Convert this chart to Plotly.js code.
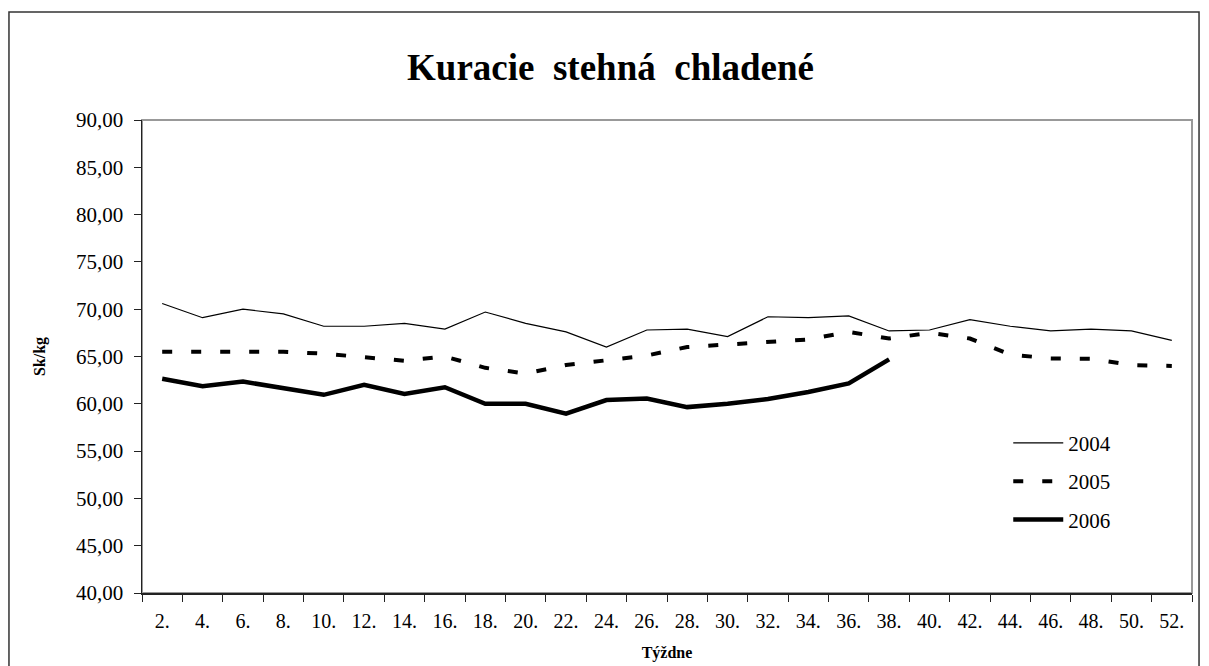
<!DOCTYPE html>
<html>
<head>
<meta charset="utf-8">
<script src="https://cdn.plot.ly/plotly-3.0.1.min.js"></script>
<style>
  html, body { margin: 0; padding: 0; background: #ffffff; }
  #chart { width: 1209px; height: 666px; }
</style>
</head>
<body>
<div id="chart"></div>
<script>
// Week labels (categories)
const weeks = ["2.", "4.", "6.", "8.", "10.", "12.", "14.", "16.", "18.", "20.", "22.", "24.", "26.",
               "28.", "30.", "32.", "34.", "36.", "38.", "40.", "42.", "44.", "46.", "48.", "50.", "52."];

// Prices in Sk/kg
const y2004 = [70.6, 69.1, 70.0, 69.5, 68.2, 68.2, 68.5, 67.9, 69.7, 68.5, 67.6, 66.0, 67.8,
               67.9, 67.1, 69.2, 69.1, 69.3, 67.7, 67.8, 68.9, 68.2, 67.7, 67.9, 67.7, 66.7];
const y2005 = [65.5, 65.5, 65.4, 65.5, 65.3, 64.9, 64.55, 65.0, 63.8, 63.2, 64.1, 64.6, 65.1,
               66.0, 66.3, 66.5, 66.8, 67.6, 66.9, 67.5, 66.9, 65.2, 64.8, 64.75, 64.1, 64.0];
const y2006 = [62.65, 61.85, 62.35, 61.6, 60.95, 62.0, 61.05, 61.75, 60.0, 60.0, 58.95, 60.4, 60.55,
               59.65, 60.0, 60.5, 61.25, 62.15, 64.7];

const seriesNames = ["2004", "2005", "2006"];

const serif = "Liberation Serif";

const traces = [
  { x: weeks, y: y2004, name: seriesNames[0], type: "scatter", mode: "lines",
    line: { color: "#000000", width: 1.2 }, legendgroup: "a" },
  { x: weeks, y: y2005, name: seriesNames[1], type: "scatter", mode: "lines",
    line: { color: "#000000", width: 4, dash: "10px,19px" }, legendgroup: "b" },
  { x: weeks.slice(0, y2006.length), y: y2006, name: seriesNames[2], type: "scatter", mode: "lines",
    line: { color: "#000000", width: 4.5 }, legendgroup: "c" }
];

const layout = {
  width: 1209, height: 666,
  margin: { l: 142, r: 17, t: 120, b: 73 },
  paper_bgcolor: "#ffffff", plot_bgcolor: "#ffffff",
  separators: ", ",
  font: { family: serif, color: "#000000", size: 20 },
  showlegend: true,
  hovermode: false,
  title: {
    text: "<b>Kuracie  stehná  chladené</b>",
    font: { family: serif, size: 37, color: "#000000" },
    xref: "container", x: 0.505, xanchor: "center",
    yref: "container", y: 0.899, yanchor: "middle"
  },
  xaxis: {
    type: "category",
    range: [-0.5, weeks.length - 0.5],
    tickson: "boundaries",
    ticks: "outside", ticklen: 7, tickcolor: "#222222", tickwidth: 1,
    showline: true, linecolor: "#222222", linewidth: 1.5,
    showgrid: false, zeroline: false,
    tickfont: { family: serif, size: 20, color: "#000000" },
    ticklabelstandoff: 9,
    title: { text: "<b>Týždne</b>", font: { family: serif, size: 16, color: "#000000" }, standoff: 16 },
    automargin: false
  },
  yaxis: {
    range: [40, 90], dtick: 5, tick0: 40,
    tickformat: ".2f",
    ticks: "outside", ticklen: 7, tickcolor: "#222222", tickwidth: 1,
    showline: true, linecolor: "#222222", linewidth: 1.5,
    showgrid: false, zeroline: false,
    tickfont: { family: serif, size: 21, color: "#000000" },
    ticklabelstandoff: 6,
    title: { text: "<b>Sk/kg</b>", font: { family: serif, size: 16, color: "#000000" }, standoff: 26 },
    automargin: false
  },
  legend: {
    x: 0.825, xanchor: "left",
    y: 0.36, yanchor: "top",
    bgcolor: "rgba(0,0,0,0)",
    font: { family: serif, size: 21, color: "#000000" },
    tracegroupgap: 8,
    itemwidth: 50
  },
  shapes: [
    // plot-area frame (grey top / right)
    { type: "rect", xref: "paper", yref: "paper", x0: 0, x1: 1, y0: 0, y1: 1,
      line: { color: "#999999", width: 2 }, layer: "below" },
    // outer chart frame
    { type: "rect", xref: "paper", yref: "paper", x0: -0.1267, x1: 1.0067, y0: -0.2, y1: 1.2283,
      line: { color: "#333333", width: 1.5 }, layer: "below" }
  ]
};

Plotly.newPlot("chart", traces, layout, { displayModeBar: false, staticPlot: true });
</script>
</body>
</html>
